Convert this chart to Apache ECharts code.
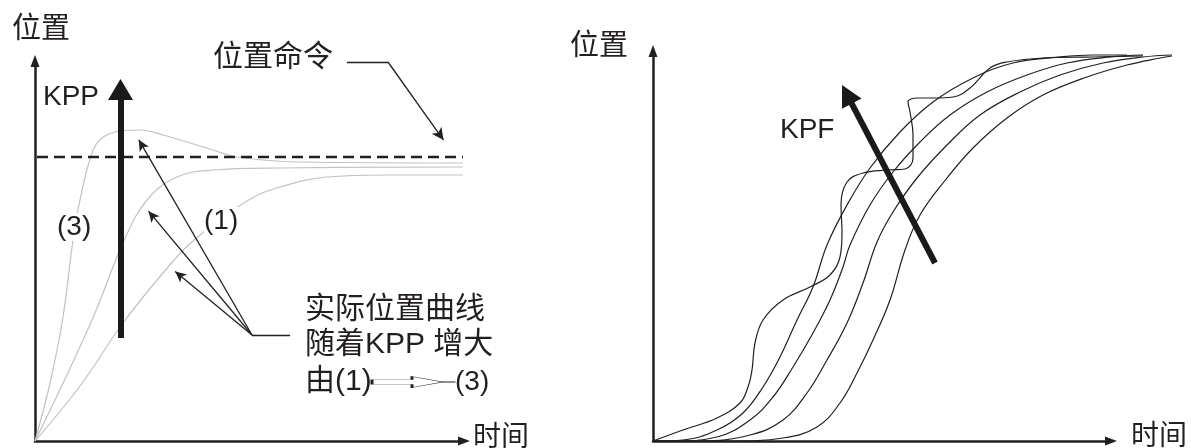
<!DOCTYPE html>
<html>
<head>
<meta charset="utf-8">
<script src="https://cdn.jsdelivr.net/npm/echarts@6/dist/echarts.min.js"></script>
<style>
html, body { margin: 0; padding: 0; background: #fff; }
#chart { width: 1191px; height: 448px; }
</style>
</head>
<body>
<div id="chart"></div>
<script>
// left panel: position response for growing KPP (x = time, y = position)
var kppCurve1 = [[0, 0], [45, 55], [88, 118], [128, 168], [158, 200], [212, 240], [245, 254], [292, 264], [350, 266], [428, 266]];
var kppCurve2 = [[0, 0], [30, 62], [60, 128], [88, 198], [112, 241], [142, 264], [178, 271], [245, 273], [428, 274]];
var kppCurve3 = [[0, 0], [15, 58], [28, 124], [38, 201], [45, 241], [57, 288], [67, 303], [85, 310], [105, 311], [128, 306], [178, 291], [202, 284], [265, 279], [428, 278]];
var commandLevel = 284;
var commandSpan = [2, 428];

// right panel: position response for growing KPF
var kpfCurveWave = [[0, 0], [30, 11], [64, 23], [87, 38], [95, 54], [99, 71], [102, 98], [110, 121], [130, 141], [157, 154], [177, 166], [187, 184], [189, 208], [188, 236], [194, 259], [210, 268], [234, 271], [252, 272], [260, 283], [260, 306], [257, 329], [255, 339], [264, 343], [280, 343], [300, 344], [317, 353], [337, 373], [354, 379], [390, 383], [440, 384], [490, 385]];
var kpfCurve1 = [[0, 0], [30, 1], [64, 11], [90, 28], [110, 54], [127, 84], [144, 121], [160, 154], [174, 196], [194, 236], [217, 273], [247, 309], [280, 339], [320, 363], [360, 378], [407, 384], [440, 386], [474, 386]];
var kpfCurve2 = [[0, 0], [20, 0], [64, 4], [97, 21], [120, 44], [140, 74], [160, 108], [177, 141], [190, 174], [197, 196], [217, 236], [240, 269], [267, 299], [297, 326], [334, 349], [374, 366], [414, 378], [457, 384], [490, 386]];
var kpfCurve3 = [[0, 0], [47, 0], [97, 6], [130, 21], [154, 48], [174, 81], [194, 118], [210, 158], [224, 199], [240, 229], [264, 263], [294, 296], [327, 326], [367, 349], [407, 366], [450, 378], [490, 384], [519, 386]];
var kpfCurve4 = [[0, 0], [80, 0], [130, 3], [164, 14], [187, 38], [204, 68], [220, 101], [237, 141], [252, 191], [267, 226], [294, 263], [320, 293], [354, 323], [390, 346], [434, 364], [474, 376], [507, 383], [519, 385]];

var INK = "#231f20";
var GREY = "#c2c2c2";
var FONT = '"Liberation Sans", "Noto Sans CJK SC", sans-serif';

function axis(grid, max, visible) {
    return {
        gridIndex: grid, type: "value", min: 0, max: max,
        axisLine: {show: visible, onZero: false, symbol: ["none", "triangle"], symbolSize: [9, 12],
            lineStyle: {color: INK, width: 2.5}},
        axisTick: {show: false}, axisLabel: {show: false}, splitLine: {show: false}
    };
}
function curve(grid, data, color) {
    return {
        type: "line", xAxisIndex: grid, yAxisIndex: grid, data: data,
        smooth: 0.4, showSymbol: false, clip: false, silent: true, z: 2,
        lineStyle: {color: color, width: 1.2}
    };
}
function text(x, y, str, size, bg) {
    var t = {type: "text", x: x, y: y, z: 100,
        style: {text: str, fontSize: size, fontFamily: FONT, fill: INK, verticalAlign: "middle"}};
    if (bg) {
        t.style.backgroundColor = "#fff";
    }
    return t;
}
function pointer(from, to, size) {
    return [{coord: from, symbol: "none"}, {coord: to, symbol: "arrow", symbolSize: size}];
}
var thick = {width: 6, color: "#1a1a1a", type: "solid"};

var commandSeries = {
    name: "位置命令", type: "line", xAxisIndex: 0, yAxisIndex: 0,
    data: [[commandSpan[0], commandLevel], [commandSpan[1], commandLevel]],
    showSymbol: false, silent: true, z: 3,
    lineStyle: {color: INK, width: 2.5, type: [11, 6]},
    markLine: {
        silent: true, animation: false, label: {show: false}, emphasis: {disabled: true},
        lineStyle: {color: INK, width: 1.3, type: "solid"},
        data: [
            pointer([217, 106], [103.8, 301.2], [8, 11]),
            pointer([217, 106], [113.5, 229.8], [8, 11]),
            pointer([217, 106], [140.2, 169.5], [8, 11]),
            [{coord: [217, 106], symbol: "none"}, {coord: [255, 106], symbol: "none"}],
            [{coord: [312, 379], symbol: "none"}, {coord: [353, 379], symbol: "none"}],
            pointer([353, 379], [408.5, 300.9], [9, 12]),
            [{coord: [85.5, 103], symbol: "none", lineStyle: thick},
             {coord: [85.5, 351.5], symbol: "triangle", symbolSize: [25, 21], lineStyle: thick}]
        ]
    },
    markPoint: {
        silent: true, animation: false, label: {show: false},
        data: [{coord: [378, 59], symbol: "path://M0,3L40,3L40,0L70,5L82,5L82,5.4L70,5.4L40,10.4L40,7.4L0,7.4Z", symbolSize: [82, 11],
            itemStyle: {color: "#fff", borderColor: INK, borderWidth: 1.1}}]
    }
};

// grid 2 carries the right curves (wider than the drawn axes so the tails run past the arrow)
var waveSeries = curve(2, kpfCurveWave, INK);
waveSeries.markLine = {
    silent: true, animation: false, label: {show: false}, emphasis: {disabled: true},
    data: [
        [{coord: [282, 178], symbol: "none", lineStyle: thick},
         {coord: [193.9, 346.7], symbol: "triangle", symbolSize: [22, 21], lineStyle: thick}]
    ]
};

var option = {
    animation: false,
    backgroundColor: "#fff",
    grid: [
        {left: 35, top: 61, width: 429, height: 380, outerBoundsMode: "none"},
        {left: 653, top: 51, width: 458, height: 390, outerBoundsMode: "none"},
        {left: 653, top: 51, width: 520, height: 390, outerBoundsMode: "none"}
    ],
    xAxis: [axis(0, 429, true), axis(1, 458, true), axis(2, 520, false)],
    yAxis: [axis(0, 380, true), axis(1, 390, true), axis(2, 390, false)],
    series: [
        curve(0, kppCurve1, GREY),
        curve(0, kppCurve2, GREY),
        curve(0, kppCurve3, GREY),
        commandSeries,
        waveSeries,
        curve(2, kpfCurve1, INK),
        curve(2, kpfCurve2, INK),
        curve(2, kpfCurve3, INK),
        curve(2, kpfCurve4, INK)
    ],
    graphic: [
        text(12, 30, "位置", 29),
        text(213, 58, "位置命令", 30),
        text(43, 97, "KPP", 28),
        text(57, 227, "(3)", 28, true),
        text(204, 221, "(1)", 28, true),
        text(305, 310, "实际位置曲线", 30),
        text(305, 345, "随着KPP 增大", 30),
        text(305, 382, "由(1)", 30),
        text(455, 382, "(3)", 28),
        text(473, 438, "时间", 28),
        text(570, 47, "位置", 29),
        text(780, 130, "KPF", 28),
        text(1131, 437, "时间", 28)
    ]
};

var chart = echarts.init(document.getElementById("chart"));
chart.setOption(option);
</script>
</body>
</html>
